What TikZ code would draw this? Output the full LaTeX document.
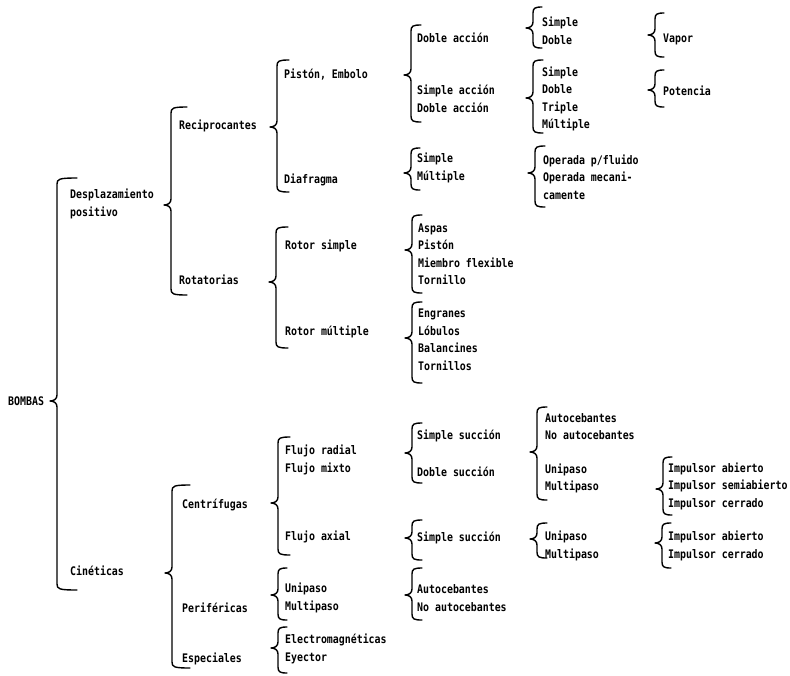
\documentclass[tikz,border=0pt]{standalone}
\usepackage{fontspec}
\newfontfamily\dotfont[FakeStretch=0.84]{DejaVu Sans Mono}
\usepackage{tikz}
\tikzset{
	item/.style={anchor=west,inner sep=0pt,align=left,font=\dotfont\bfseries\fontsize{11.8}{17.5}\selectfont},
	llave/.style={draw,line width=1.4pt,line cap=round,line join=round},
}
% brace: [hook]{x}{top}{tip}{bottom}
\newcommand{\llave}[5][9]{%
	\draw[llave] (#2+#1,#3) .. controls (#2+2,#3) and (#2,#3+1) .. (#2,#3+6)
		-- (#2,#4-6) .. controls (#2,#4-2) and (#2-3,#4) .. (#2-7,#4)
		.. controls (#2-3,#4) and (#2,#4+2) .. (#2,#4+6)
		-- (#2,#5-6) .. controls (#2,#5-1) and (#2+2,#5) .. (#2+#1,#5);%
}

\begin{document}
\begin{tikzpicture}[x=1pt,y=-1pt]
	\useasboundingbox (0,0) rectangle (790,675);
	
	% Root
	\node[item] (bombas) at (8,401) {BOMBAS};
	\llave[20]{57}{178}{401}{590}
	
	% First level
	\node[item] (desp) at (70,204) {Desplazamiento\\positivo};
	\node[item] (cin) at (70,571) {Cinéticas};
	\llave[16]{171}{107}{205}{295}
	\llave[18]{172}{485}{573}{668}
	
	% Second level
	\node[item] (recip) at (179,126) {Reciprocantes};
	\node[item] (rot) at (179,280) {Rotatorias};
	\node[item] (centr) at (182,505) {Centrífugas};
	\node[item] (perif) at (182,608) {Periféricas};
	\node[item] (espec) at (182,659) {Especiales};
	\llave[12]{277}{60}{127}{192}
	\llave[12]{276}{227}{282}{348}
	\llave[12]{278}{437}{503}{555}
	\llave{278}{568}{595}{620}
	\llave{278}{627}{648}{673}
	
	% Third level
	\node[item] (piston) at (284,75) {Pistón, Embolo};
	\node[item] (diaf) at (284,180) {Diafragma};
	\node[item] (rsimple) at (285,246) {Rotor simple};
	\node[item] (rmult) at (285,332) {Rotor múltiple};
	\node[item] (fradial) at (285,460) {Flujo radial\\Flujo mixto};
	\node[item] (faxial) at (285,537) {Flujo axial};
	\node[item] (pe-uni) at (285,598) {Unipaso\\Multipaso};
	\node[item] (es-list) at (285,649) {Electromagnéticas\\Eyector};
	\llave[10]{411}{25}{75}{122}
	\llave{411}{148}{173}{190}
	\llave[10]{412}{215}{250}{293}
	\llave[10]{412}{302}{338}{383}
	\llave[10]{412}{423}{453}{483}
	\llave[10]{412}{520}{538}{560}
	\llave[10]{412}{568}{595}{620}
	
	% Fourth level
	\node[item] (dobacc) at (417,38) {Doble acción};
	\node[item] (simpacc) at (417,99) {Simple acción\\Doble acción};
	\node[item] (di-list) at (417,168) {Simple\\Múltiple};
	\node[item] (rs-list) at (418,254.5) {Aspas\\Pistón\\Miembro flexible\\Tornillo};
	\node[item] (rm-list) at (418,340) {Engranes\\Lóbulos\\Balancines\\Tornillos};
	\node[item] (fr-simple) at (417,436) {Simple succión};
	\node[item] (fr-doble) at (417,472) {Doble succión};
	\node[item] (fa-simple) at (417,538) {Simple succión};
	\node[item] (pe-auto) at (417,598) {Autocebantes\\No autocebantes};
	\llave{533}{7}{28}{48}
	\llave[10]{533}{60}{98}{133}
	\llave[10]{535}{146}{173}{207}
	\llave[10]{537}{407}{452}{500}
	\llave[10]{537}{523}{539}{558}
	
	% Fifth level
	\node[item] (da-list) at (542,31) {Simple\\Doble};
	\node[item] (sa-list) at (542,99) {Simple\\Doble\\Triple\\Múltiple};
	\node[item] (operada) at (543,177) {Operada p/fluido\\Operada mecani-\\camente};
	\node[item] (fr-auto) at (545,426.5) {Autocebantes\\No autocebantes};
	\node[item] (fr-uni) at (545,478.5) {Unipaso\\Multipaso};
	\node[item] (fa-uni) at (545,546) {Unipaso\\Multipaso};
	\llave{655}{13}{35}{57}
	\llave{655}{70}{90}{107}
	\llave{663}{457}{489}{515}
	\llave{662}{523}{543}{568}
	
	% Sixth level
	\node[item] (vapor) at (663,39) {Vapor};
	\node[item] (potencia) at (663,91) {Potencia};
	\node[item] (fr-imp) at (668,486) {Impulsor abierto\\Impulsor semiabierto\\Impulsor cerrado};
	\node[item] (fa-imp) at (668,546) {Impulsor abierto\\Impulsor cerrado};
	
\end{tikzpicture}
\end{document}
